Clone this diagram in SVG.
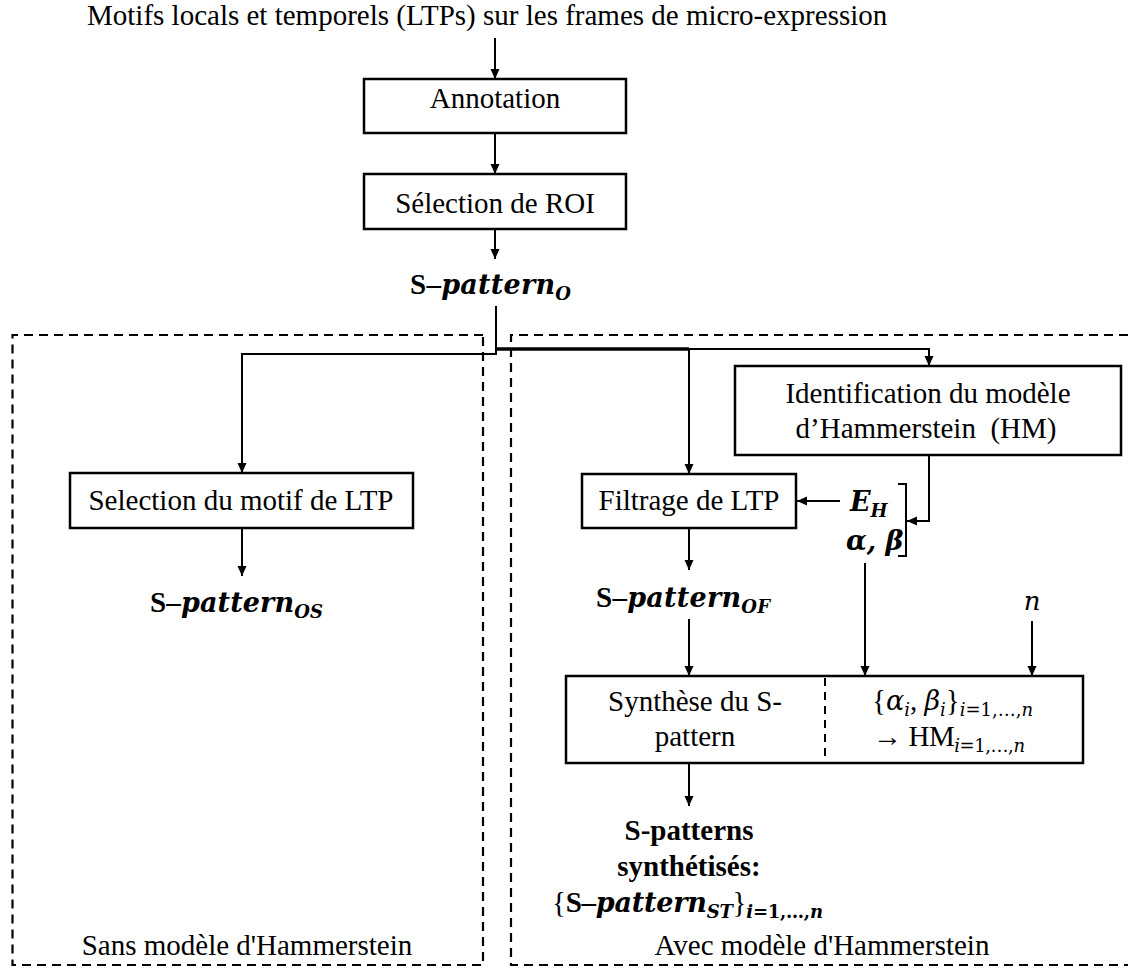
<svg xmlns="http://www.w3.org/2000/svg" width="1128" height="969" viewBox="0 0 1128 969">
<style>
.t{font-family:'Liberation Serif','Times New Roman',serif;font-size:29px;fill:#000}
.tb{font-family:'Liberation Serif','Times New Roman',serif;font-size:29px;font-weight:bold;fill:#000}
.mb{font-family:'DejaVu Serif',serif;font-weight:bold;font-style:italic}
.mi{font-family:'DejaVu Serif',serif;font-style:italic}
.box{fill:#fff;stroke:#000;stroke-width:2.5}
.dash{fill:none;stroke:#000;stroke-width:2.2;stroke-dasharray:9 6}
.ln{fill:none;stroke:#000;stroke-width:2}
</style>
<defs>
<marker id="ah" markerUnits="userSpaceOnUse" markerWidth="10" markerHeight="12" refX="10" refY="4.5" orient="auto">
<path d="M0,0 L10,4.5 L0,9 z" fill="#000"/>
</marker>
</defs>

<g id="groups">
<path class="dash" d="M483,335 H12.5 V965 H483 Z"/>
<path class="dash" d="M1128,335 H511 V965 H1128"/>
<text class="t" x="247" y="955" text-anchor="middle">Sans modèle d'Hammerstein</text>
<text class="t" x="822" y="955" text-anchor="middle">Avec modèle d'Hammerstein</text>
</g>

<g id="input">
<text class="t" x="87" y="25">Motifs locals et temporels (LTPs) sur les frames de micro-expression</text>
</g>

<g id="annotation">
<rect class="box" x="364" y="79" width="262" height="54"/>
<text class="t" x="495" y="108" text-anchor="middle">Annotation</text>
</g>

<g id="roi">
<rect class="box" x="364" y="174" width="262" height="55"/>
<text class="t" x="495" y="213" text-anchor="middle">Sélection de ROI</text>
</g>

<g id="spattern-o">
<text x="410" y="294" textLength="161" lengthAdjust="spacing"><tspan class="tb">S–</tspan><tspan class="mb" font-size="27">pattern</tspan><tspan class="mb" font-size="18" dy="6">O</tspan></text>
</g>

<g id="selection-motif">
<rect class="box" x="70" y="473" width="343" height="55"/>
<text class="t" x="241" y="510" text-anchor="middle">Selection du motif de LTP</text>
</g>

<g id="spattern-os">
<text x="150" y="612" textLength="173" lengthAdjust="spacing"><tspan class="tb">S–</tspan><tspan class="mb" font-size="27">pattern</tspan><tspan class="mb" font-size="18" dy="6">OS</tspan></text>
</g>

<g id="identification">
<rect class="box" x="735" y="366" width="386" height="89"/>
<text class="t" x="928" y="403" text-anchor="middle">Identification du modèle</text>
<text class="t" x="926" y="438" text-anchor="middle">d’Hammerstein &#160;(HM)</text>
</g>

<g id="filtrage">
<rect class="box" x="582" y="474" width="214" height="54"/>
<text class="t" x="689" y="510" text-anchor="middle">Filtrage de LTP</text>
</g>

<g id="params">
<text x="850" y="511"><tspan class="mb" font-size="27">E</tspan><tspan class="mb" font-size="18" dy="6">H</tspan></text>
<text class="mb" x="846" y="550" font-size="27">α, β</text>
<path class="ln" d="M898,484 H906 V556 H898"/>
</g>

<g id="spattern-of">
<text x="596" y="607" textLength="174" lengthAdjust="spacing"><tspan class="tb">S–</tspan><tspan class="mb" font-size="27">pattern</tspan><tspan class="mb" font-size="18" dy="6">OF</tspan></text>
</g>

<g id="n-label">
<text class="mi" x="1032" y="610" font-size="26" text-anchor="middle">n</text>
</g>

<g id="synthese">
<rect class="box" x="566" y="676" width="517" height="87"/>
<line x1="825" y1="678" x2="825" y2="761" stroke="#000" stroke-width="2" stroke-dasharray="8 6"/>
<text class="t" x="695" y="711" text-anchor="middle">Synthèse du S-</text>
<text class="t" x="695" y="746" text-anchor="middle">pattern</text>
<text x="872" y="710" textLength="161" lengthAdjust="spacing"><tspan class="t">{</tspan><tspan class="mi" font-size="27">α</tspan><tspan class="mi" font-size="18" dy="6">i</tspan><tspan class="t" dy="-6">, </tspan><tspan class="mi" font-size="27">β</tspan><tspan class="mi" font-size="18" dy="6">i</tspan><tspan class="t" dy="-6">}</tspan><tspan dy="6"><tspan class="mi" font-size="18">i</tspan><tspan font-family="DejaVu Serif" font-size="18">=1,…,</tspan><tspan class="mi" font-size="18">n</tspan></tspan></text>
<text x="873" y="746" textLength="152" lengthAdjust="spacing"><tspan class="t">→ HM</tspan><tspan dy="6"><tspan class="mi" font-size="18">i</tspan><tspan font-family="DejaVu Serif" font-size="18">=1,…,</tspan><tspan class="mi" font-size="18">n</tspan></tspan></text>
</g>

<g id="output">
<text class="tb" x="689" y="840" text-anchor="middle">S-patterns</text>
<text class="tb" x="689" y="876" text-anchor="middle">synthétisés:</text>
<text x="552" y="912" textLength="271" lengthAdjust="spacing"><tspan class="t">{</tspan><tspan class="tb">S–</tspan><tspan class="mb" font-size="27">pattern</tspan><tspan class="mb" font-size="18" dy="6">ST</tspan><tspan class="t" dy="-6">}</tspan><tspan dy="6"><tspan class="mb" font-size="18">i</tspan><tspan font-family="DejaVu Serif" font-weight="bold" font-size="18">=1,…,</tspan><tspan class="mb" font-size="18">n</tspan></tspan></text>
</g>

<g id="connectors">
<line class="ln" x1="495" y1="38" x2="495" y2="79" marker-end="url(#ah)"/>
<line class="ln" x1="495" y1="133" x2="495" y2="174" marker-end="url(#ah)"/>
<line class="ln" x1="495" y1="229" x2="495" y2="259" marker-end="url(#ah)"/>
<path class="ln" d="M496,306 V354 H242 V473" marker-end="url(#ah)"/>
<path d="M496,349 H689" stroke="#000" stroke-width="3.5" fill="none"/>
<path class="ln" d="M689,349 V474" marker-end="url(#ah)"/>
<path class="ln" d="M689,349 H929 V366" marker-end="url(#ah)"/>
<line class="ln" x1="242" y1="528" x2="242" y2="576" marker-end="url(#ah)"/>
<line class="ln" x1="689" y1="528" x2="689" y2="570" marker-end="url(#ah)"/>
<line class="ln" x1="840" y1="501" x2="797" y2="501" marker-end="url(#ah)"/>
<path class="ln" d="M929,455 V521 H907" marker-end="url(#ah)"/>
<line class="ln" x1="865" y1="563" x2="865" y2="676" marker-end="url(#ah)"/>
<line class="ln" x1="689" y1="619" x2="689" y2="676" marker-end="url(#ah)"/>
<line class="ln" x1="1032" y1="621" x2="1032" y2="676" marker-end="url(#ah)"/>
<line class="ln" x1="689" y1="763" x2="689" y2="806" marker-end="url(#ah)"/>
</g>
</svg>
